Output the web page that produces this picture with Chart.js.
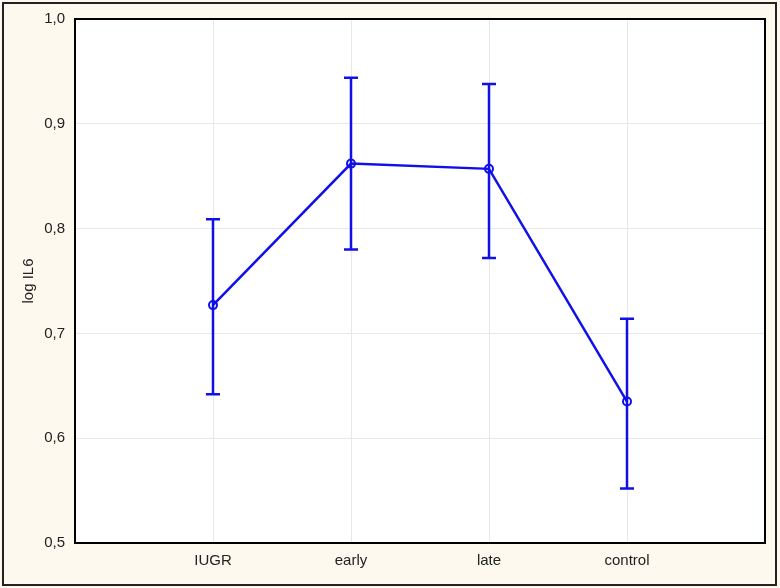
<!DOCTYPE html>
<html>
<head>
<meta charset="utf-8">
<script src="https://cdn.jsdelivr.net/npm/chart.js@4"></script>
<style>
html,body{margin:0;padding:0;background:#fdf9ef;}
#wrap{width:780px;height:588px;position:relative;}
</style>
</head>
<body>
<div id="wrap"><canvas id="c" width="780" height="588"></canvas></div>
<script>
const categories = ['IUGR', 'early', 'late', 'control'];
const means = [0.727, 0.862, 0.857, 0.635];
const upper = [0.809, 0.944, 0.938, 0.714];
const lower = [0.642, 0.780, 0.772, 0.552];
const yTicks = [0.5, 0.6, 0.7, 0.8, 0.9, 1.0];

const BLUE = '#1010e8';
const FONT = {family: 'Liberation Sans, Arial', size: 15};

const bgPlugin = {
  id: 'bg',
  beforeDraw(chart) {
    const ctx = chart.ctx, a = chart.chartArea;
    ctx.save();
    ctx.fillStyle = '#fdf9ef';
    ctx.fillRect(0, 0, chart.width, chart.height);
    ctx.strokeStyle = '#222';
    ctx.lineWidth = 2;
    ctx.strokeRect(3, 3, chart.width - 7, chart.height - 6);
    ctx.fillStyle = '#ffffff';
    ctx.fillRect(a.left, a.top, a.right - a.left, a.bottom - a.top);
    ctx.restore();
  },
  afterDatasetsDraw(chart) {
    const ctx = chart.ctx;
    const xs = chart.scales.x, ys = chart.scales.y;
    ctx.save();
    ctx.strokeStyle = BLUE;
    ctx.lineWidth = 2.5;
    for (let i = 0; i < categories.length; i++) {
      const x = xs.getPixelForValue(i);
      const yt = ys.getPixelForValue(upper[i]);
      const yb = ys.getPixelForValue(lower[i]);
      ctx.beginPath();
      ctx.moveTo(x, yt); ctx.lineTo(x, yb);
      ctx.moveTo(x - 7, yt); ctx.lineTo(x + 7, yt);
      ctx.moveTo(x - 7, yb); ctx.lineTo(x + 7, yb);
      ctx.stroke();
    }
    ctx.restore();
  },
  afterDraw(chart) {
    const ctx = chart.ctx, a = chart.chartArea;
    ctx.save();
    ctx.strokeStyle = '#000';
    ctx.lineWidth = 2;
    ctx.strokeRect(a.left, a.top, a.right - a.left, a.bottom - a.top);
    ctx.restore();
  }
};

new Chart(document.getElementById('c'), {
  type: 'line',
  data: {
    datasets: [{
      data: means.map((v, i) => ({x: i, y: v})),
      borderColor: BLUE,
      borderWidth: 2.5,
      pointRadius: 4,
      pointBorderWidth: 2,
      pointBorderColor: BLUE,
      pointBackgroundColor: 'rgba(255,255,255,0)',
      tension: 0
    }]
  },
  options: {
    responsive: false,
    animation: false,
    events: [],
    layout: {padding: {left: 0, top: 18, right: 15, bottom: 0}},
    plugins: {legend: {display: false}, tooltip: {enabled: false}},
    scales: {
      x: {
        type: 'linear', min: -1, max: 4,
        afterBuildTicks(s) { s.ticks = [-1, 0, 1, 2, 3, 4].map(v => ({value: v})); },
        afterFit(s) { s.height = 45; },
        ticks: {
          callback: v => (v >= 0 && v < categories.length ? categories[v] : ''),
          font: FONT,
          color: '#222', padding: 9, maxRotation: 0, autoSkip: false
        },
        grid: {color: '#e8e8e8', lineWidth: 1, drawTicks: false},
        border: {display: false}
      },
      y: {
        min: 0.5, max: 1.0,
        afterBuildTicks(s) { s.ticks = yTicks.map(v => ({value: v})); },
        afterFit(s) { s.width = 75; },
        ticks: {
          callback: v => v.toFixed(1).replace('.', ','),
          font: FONT,
          color: '#222', padding: 10
        },
        grid: {color: '#e8e8e8', lineWidth: 1, drawTicks: false},
        border: {display: false},
        title: {
          display: true, text: 'log IL6',
          font: FONT,
          color: '#222', padding: {top: 20, bottom: 0}
        }
      }
    }
  },
  plugins: [bgPlugin]
});
</script>
</body>
</html>
